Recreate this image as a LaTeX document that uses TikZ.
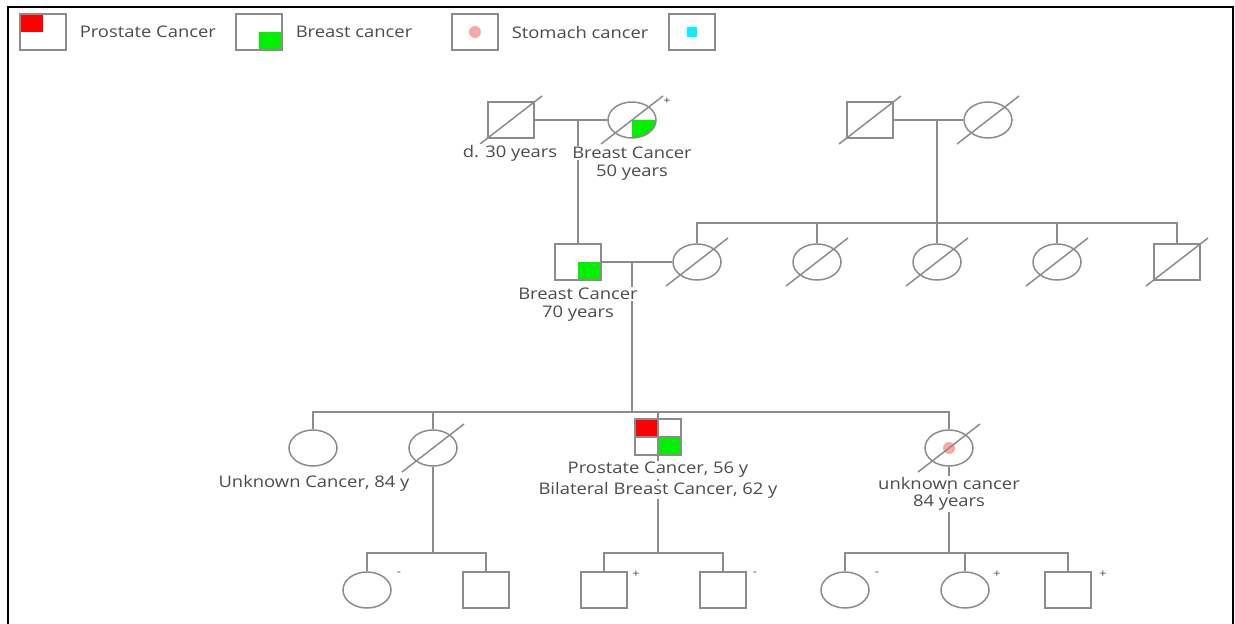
\documentclass[tikz,border=0pt]{standalone}
\usepackage{fontspec}
\setmainfont{Open Sans}[FakeStretch=1.15]
\usetikzlibrary{shapes.geometric,calc}
\definecolor{lgray}{HTML}{8C8C8C}
\definecolor{tgray}{HTML}{4C4C4C}
\definecolor{pgreen}{HTML}{00F000}
\definecolor{pred}{HTML}{FF0000}
\definecolor{ppink}{HTML}{F8A8A8}
\definecolor{pcyan}{HTML}{00F4FF}
\newcommand{\deadmark}[1]{\draw ($(#1)+(-31,24)$) -- ($(#1)+(31,-24)$);}
\tikzset{
  male/.style={draw, minimum width=46pt, minimum height=36pt, inner sep=0pt},
  female/.style={draw, ellipse, minimum width=48pt, minimum height=36pt, inner sep=0pt},
  brq/.style={path picture={\fill[pgreen] (path picture bounding box.center) rectangle (path picture bounding box.south east);}},
  prq/.style={path picture={\fill[pred] (path picture bounding box.center) rectangle (path picture bounding box.north west);}},
  quad/.style={path picture={
    \fill[pred] (path picture bounding box.center) rectangle (path picture bounding box.north west);
    \fill[pgreen] (path picture bounding box.center) rectangle (path picture bounding box.south east);
    \draw (path picture bounding box.north) -- (path picture bounding box.south)
          (path picture bounding box.west) -- (path picture bounding box.east);}},
  pdot/.style={path picture={\fill[ppink] (path picture bounding box.center) circle (6);}},
  csq/.style={path picture={\fill[pcyan] ($(path picture bounding box.center)+(-5,-5)$) rectangle ++(10,10);}},
  lbl/.style={text=tgray, fill=white, inner sep=1pt, font=\fontsize{16}{18}\selectfont},
  sign/.style={text=tgray, inner sep=0pt, font=\fontsize{11}{11}\selectfont}
}
\begin{document}
\begin{tikzpicture}[x=1pt, y=-1pt, line width=1.5pt, color=lgray]
\useasboundingbox (0,0) rectangle (1235,624);
\draw[black, line width=2.4pt] (8,630) -- (8,7) -- (1233,7) -- (1233,630);

% key
\node[male,prq] (keyp) at (43,32) {};
\node[lbl,anchor=west] (keyptxt) at (78,32) {Prostate Cancer};
\node[male,brq] (keyb) at (259,32) {};
\node[lbl,anchor=west] (keybtxt) at (294,32) {Breast cancer};
\node[male,pdot] (keys) at (475,32) {};
\node[lbl,anchor=west] (keystxt) at (510,32) {Stomach cancer};
\node[male,csq] (keyc) at (692,32) {};

% generation I
\node[male] (gpa1) at (511,120) {};
\node[female,brq] (gma1) at (632,120) {};
\node[male] (gpa2) at (870,120) {};
\node[female] (gma2) at (988,120) {};
\foreach \n in {gpa1,gma1,gpa2,gma2} {\deadmark{\n}}
\node[sign] (gma1s) at (667,101) {+};
\coordinate (m1) at (578,120);
\coordinate (m3) at (937,120);
\coordinate (k4) at (937,223);
\draw (gpa1) -- (gma1);
\draw (gpa2) -- (gma2);

% generation II
\node[male,brq] (dad) at (578,262) {};
\node[female] (mom) at (697,262) {};
\node[male] (uncle) at (1177,262) {};
\deadmark{mom}
\deadmark{uncle}
\coordinate (m2) at (632,262);
\coordinate (k0) at (632,412);
\draw (m1) -- (dad);
\draw (dad) -- (mom);
\draw (m3) -- (k4);
\draw (mom.north) |- (k4) -| (uncle.north);
\foreach \n/\x in {aunt1/817, aunt2/937, aunt3/1057} {
  \node[female] (\n) at (\x,262) {};
  \deadmark{\n}
  \draw (\n) -- (\n |- k4);
}

% generation III
\node[female] (sis1) at (313,448) {};
\node[female] (sis2) at (433,448) {};
\node[male,quad] (pro) at (658,437) {};
\node[female,pdot] (sis4) at (949,448) {};
\deadmark{sis2}
\deadmark{sis4}
\draw (m2) -- (k0);
\draw (sis1.north) |- (k0) -| (sis4.north);
\draw (sis2) -- (sis2 |- k0);
\draw (pro) -- (pro |- k0);

% generation IV
\coordinate (k1) at (433,553);
\coordinate (k2) at (658,553);
\coordinate (k3) at (949,553);
\node[female] (ch1) at (367,590) {};
\node[male] (ch2) at (486,590) {};
\node[male] (ch3) at (604,590) {};
\node[male] (ch4) at (723,590) {};
\node[female] (ch5) at (845,590) {};
\node[female] (ch6) at (965,590) {};
\node[male] (ch7) at (1068,590) {};
\draw (sis2) -- (k1);
\draw (ch1.north) |- (k1) -| (ch2.north);
\draw (pro) -- (k2);
\draw (ch3.north) |- (k2) -| (ch4.north);
\draw (sis4) -- (k3);
\draw (ch5.north) |- (k3) -| (ch7.north);
\draw (ch6) -- (ch6 |- k3);
\foreach \n/\s in {ch1/-, ch3/+, ch4/-, ch5/-, ch6/+}
  \node[sign] (\n s) at ($(\n)+(32,-16)$) {\s};
\node[sign] (ch7s) at ($(ch7)+(35,-16)$) {+};

% labels
\node[lbl] (gpa1txt) at (510,153) {d. 30 years};
\node[lbl] (gma1txt) at (632,153) {Breast Cancer};
\node[lbl] (gma1age) at (632,173) {50 years};
\node[lbl] (dadtxt) at (578,294) {Breast Cancer};
\node[lbl] (dadage) at (578,314) {70 years};
\node[lbl] (sis1txt) at (314,483) {Unknown Cancer, 84 y};
\node[lbl] (protxt) at (658,470) {Prostate Cancer, 56 y};
\node[lbl] (protxt2) at (658,490) {Bilateral Breast Cancer, 62 y};
\node[lbl] (sis4txt) at (949,483) {unknown cancer};
\node[lbl] (sis4age) at (949,503) {84 years};
\end{tikzpicture}
\end{document}
